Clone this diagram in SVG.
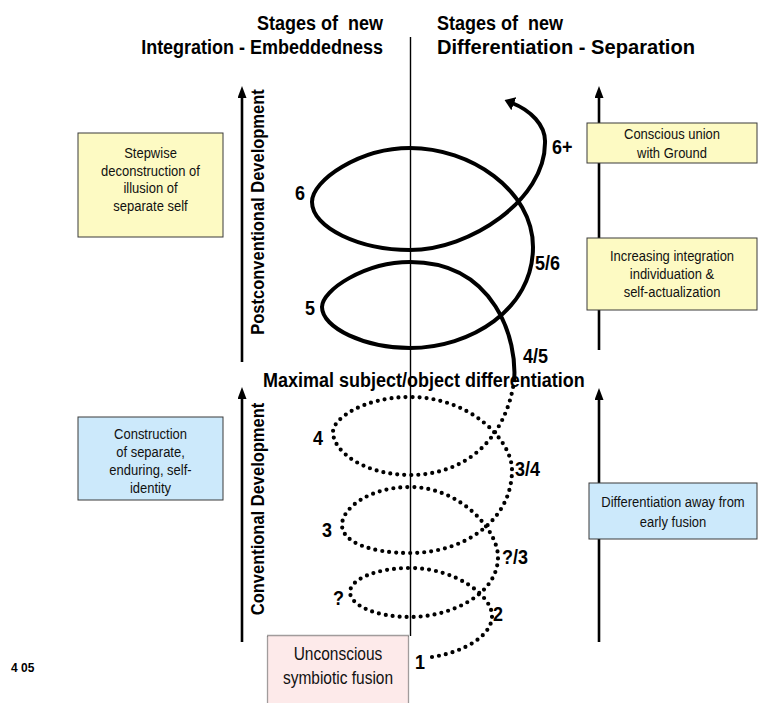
<svg xmlns="http://www.w3.org/2000/svg" width="762" height="703" viewBox="0 0 762 703">
<style>
.title{font-family:"Liberation Sans",Arial,sans-serif;font-weight:bold;font-size:18px;fill:#000}
.lbl{font-family:"Liberation Sans",Arial,sans-serif;font-weight:bold;font-size:18px;fill:#000}
.vt{font-family:"Liberation Sans",Arial,sans-serif;font-weight:bold;font-size:16.5px;fill:#000}
.bt{font-family:"Liberation Sans",Arial,sans-serif;font-size:13px;fill:#111;text-anchor:middle}
.pt{font-family:"Liberation Sans",Arial,sans-serif;font-size:15.5px;fill:#111;text-anchor:middle}
.yel{fill:#fdfac3;stroke:#3a3a3a;stroke-width:1}
.blu{fill:#cce9fb;stroke:#3a3a3a;stroke-width:1}
.pink{fill:#fdeaea;stroke:#444;stroke-width:1.3;stroke-dasharray:1 1}
.axis{stroke:#000;stroke-width:2.6;fill:none}
.solid{stroke:#000;stroke-width:4;fill:none;stroke-linejoin:round}
.dots{stroke:#000;stroke-width:4.2;fill:none;stroke-linecap:round;stroke-dasharray:0 7}
</style>
<defs>
<marker id="ah" viewBox="0 0 10 14" refX="2" refY="7" markerWidth="10" markerHeight="14" markerUnits="userSpaceOnUse" orient="auto">
<path d="M0,0 L10,7 L0,14 z" fill="#000"/>
</marker>
<marker id="axh" viewBox="0 0 12 9" refX="2" refY="4.5" markerWidth="12" markerHeight="9" markerUnits="userSpaceOnUse" orient="auto">
<path d="M0,0 L12,4.5 L0,9 z" fill="#000"/>
</marker>
</defs>
<rect width="762" height="703" fill="#fff"/>

<g id="titles">
<text class="title" transform="translate(383,30) scale(1,1.1)" text-anchor="end" xml:space="preserve">Stages of  new</text>
<text class="title" transform="translate(383,54) scale(1,1.1)" text-anchor="end">Integration - Embeddedness</text>
<text class="title" transform="translate(437,30) scale(1,1.1)" xml:space="preserve">Stages of  new</text>
<text class="title" transform="translate(437,54) scale(1,1.1)" textLength="258" lengthAdjust="spacingAndGlyphs">Differentiation - Separation</text>
</g>

<g id="connectors">
<line x1="410.5" y1="37" x2="410.5" y2="636" stroke="#000" stroke-width="1.4"/>
<line class="axis" x1="242" y1="362" x2="242" y2="96" marker-end="url(#axh)"/>
<line class="axis" x1="242" y1="642" x2="242" y2="397" marker-end="url(#axh)"/>
<line class="axis" x1="599" y1="350" x2="599" y2="96" marker-end="url(#axh)"/>
<line class="axis" x1="599" y1="642" x2="599" y2="398" marker-end="url(#axh)"/>
<path class="dots" d="M432 657 C465 652 493 635 492 615 C491 595 455 568 410 568 C375 568 350 580 350 592 C350 605 375 617 410 617 C450 617 498 595 498 557 C498 530 460 487 410 487 C370 487 342 508 342 525 C342 542 370 553 410 553 C465 553 512 520 512 470 C512 440 470 397 410 397 C365 397 333 418 333 432 C333 452 365 475 410 475 C465 475 505 440 514 382"/>
<path class="solid" marker-end="url(#ah)" d="M514 382 C518 340 495 262 410 262 C365 262 322 290 322 307 C322 328 365 348 410 348 C470 348 533 310 533 247 C533 190 470 148 410 148 C360 148 312 180 312 202 C312 228 360 250 410 250 C470 250 545 200 545 143 C546 125 530 110 512 103"/>
</g>

<g id="stage-labels">
<text class="lbl" transform="translate(552,154) scale(1,1.12)">6+</text>
<text class="lbl" transform="translate(295,200) scale(1,1.12)">6</text>
<text class="lbl" transform="translate(535,270) scale(1,1.12)">5/6</text>
<text class="lbl" transform="translate(305,315) scale(1,1.12)">5</text>
<text class="lbl" transform="translate(523,363) scale(1,1.12)">4/5</text>
<text class="lbl" transform="translate(313,445) scale(1,1.12)">4</text>
<text class="lbl" transform="translate(515,476) scale(1,1.12)">3/4</text>
<text class="lbl" transform="translate(322,537) scale(1,1.12)">3</text>
<text class="lbl" transform="translate(502,564) scale(1,1.12)">?/3</text>
<text class="lbl" transform="translate(333,605) scale(1,1.12)">?</text>
<text class="lbl" transform="translate(493,621) scale(1,1.12)">2</text>
<text class="lbl" transform="translate(415,669) scale(1,1.12)">1</text>
</g>

<g id="maximal">
<text class="lbl" transform="translate(263,387) scale(1,1.1)">Maximal subject/object differentiation</text>
</g>

<g id="postconventional">
<text class="vt" transform="translate(264,212) rotate(-90) scale(1,1.1)" text-anchor="middle">Postconventional Development</text>
</g>
<g id="conventional">
<text class="vt" transform="translate(264,509) rotate(-90) scale(1,1.1)" text-anchor="middle">Conventional Development</text>
</g>

<g id="box-stepwise">
<rect class="yel" x="78" y="133" width="145" height="104"/>
<text class="bt" transform="translate(150.5,158) scale(1,1.18)">Stepwise</text>
<text class="bt" transform="translate(150.5,176) scale(1,1.18)">deconstruction of</text>
<text class="bt" transform="translate(150.5,193) scale(1,1.18)">illusion of</text>
<text class="bt" transform="translate(150.5,211) scale(1,1.18)">separate self</text>
</g>

<g id="box-construction">
<rect class="blu" x="78" y="417" width="145" height="83"/>
<text class="bt" transform="translate(150.5,439) scale(1,1.18)">Construction</text>
<text class="bt" transform="translate(150.5,457) scale(1,1.18)">of separate,</text>
<text class="bt" transform="translate(150.5,475) scale(1,1.18)">enduring, self-</text>
<text class="bt" transform="translate(150.5,493) scale(1,1.18)">identity</text>
</g>

<g id="box-conscious">
<rect class="yel" x="587" y="123" width="170" height="40"/>
<text class="bt" transform="translate(672,139) scale(1,1.18)">Conscious union</text>
<text class="bt" transform="translate(672,158) scale(1,1.18)">with Ground</text>
</g>

<g id="box-increasing">
<rect class="yel" x="587" y="238" width="170" height="72"/>
<text class="bt" transform="translate(672,261) scale(1,1.18)">Increasing integration</text>
<text class="bt" transform="translate(672,279) scale(1,1.18)">individuation &amp;</text>
<text class="bt" transform="translate(672,297) scale(1,1.18)">self-actualization</text>
</g>

<g id="box-differentiation">
<rect class="blu" x="589" y="483" width="168" height="56"/>
<text class="bt" transform="translate(673,507) scale(1,1.18)">Differentiation away from</text>
<text class="bt" transform="translate(673,527) scale(1,1.18)">early fusion</text>
</g>

<g id="box-unconscious">
<rect class="pink" x="267.5" y="635.5" width="141" height="72"/>
<text class="pt" transform="translate(338,660) scale(1,1.15)">Unconscious</text>
<text class="pt" transform="translate(338,684) scale(1,1.15)">symbiotic fusion</text>
</g>

<g id="footer">
<text transform="translate(11,672) scale(1,1.1)" style="font-family:'Liberation Sans',Arial,sans-serif;font-weight:bold;font-size:12px">4 05</text>
</g>
</svg>
